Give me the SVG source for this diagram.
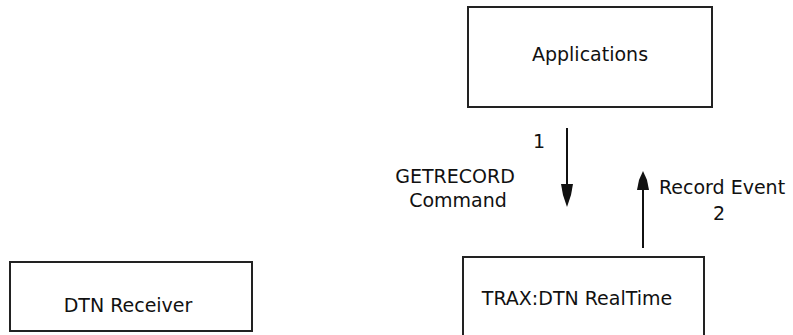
<svg xmlns="http://www.w3.org/2000/svg" width="793" height="335" viewBox="0 0 793 335">
<style>
.box{fill:#fff;stroke:#222;stroke-width:2}
.t{font-family:"DejaVu Sans","Liberation Sans",sans-serif;font-size:19px;fill:#111}
.c{text-anchor:middle}
.ln{stroke:#111;stroke-width:2;fill:none}
.hd{fill:#111;stroke:none}
</style>
<rect width="793" height="335" fill="#fff"/>
<g id="applications">
<rect class="box" x="468" y="7" width="244" height="100"/>
<text class="t c" x="590" y="61">Applications</text>
</g>
<g id="dtn-receiver">
<rect class="box" x="10" y="262" width="242" height="69"/>
<text class="t c" x="128" y="312">DTN Receiver</text>
</g>
<g id="trax">
<rect class="box" x="463" y="257" width="241" height="90"/>
<text class="t c" x="577" y="305">TRAX:DTN RealTime</text>
</g>
<g id="connectors">
<line class="ln" x1="567" y1="128" x2="567" y2="190"/>
<path class="hd" d="M561,184 L573,184 L571,195 L567,207 L563,195 Z"/>
<line class="ln" x1="643" y1="248" x2="643" y2="185"/>
<path class="hd" d="M637,190 L649,190 L647,180 L643,171 L639,180 Z"/>
<text class="t" x="533" y="148">1</text>
<text class="t c" x="455" y="183">GETRECORD</text>
<text class="t c" x="458" y="207">Command</text>
<text class="t" x="659" y="194">Record Event</text>
<text class="t" x="713" y="220">2</text>
</g>
</svg>
